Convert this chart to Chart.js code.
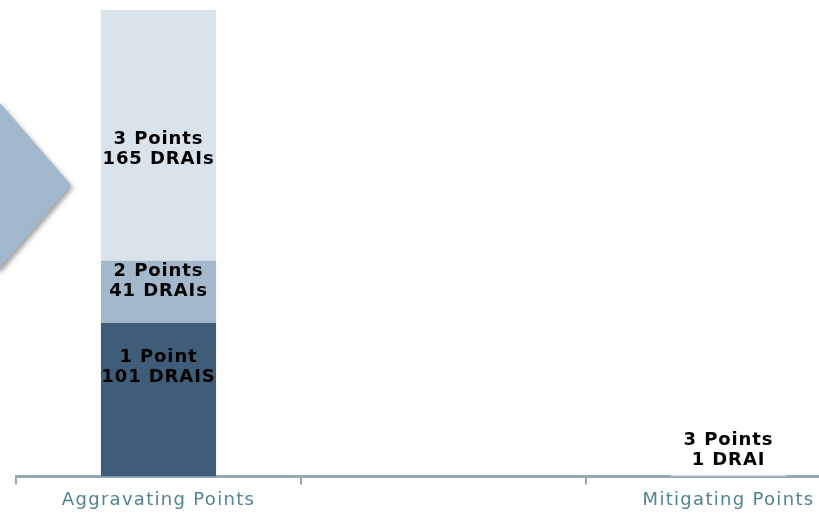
<!DOCTYPE html>
<html>
<head>
<meta charset="utf-8">
<script src="https://cdn.jsdelivr.net/npm/chart.js@4.4.1/dist/chart.umd.min.js"></script>
<style>
  html, body { margin: 0; padding: 0; background: #ffffff; overflow: hidden; }
  #wrap { position: absolute; left: 0; top: 0; width: 880px; height: 516px; }
</style>
</head>
<body>
<div id="wrap"><canvas id="c" width="880" height="516"></canvas></div>
<script>
// ---- data ----
const categories = ['Aggravating Points', '', 'Mitigating Points'];
const onePoint    = [101, 0, 0];
const twoPoints   = [41, 0, 0];
const threePoints = [165, 0, 1];
const onePointLabels    = ['1 Point\n101 DRAIS', '', ''];
const twoPointsLabels   = ['2 Points\n41 DRAIs', '', ''];
const threePointsLabels = ['3 Points\n165 DRAIs', '', '3 Points\n1 DRAI'];
const yMax = 307;

// ---- style ----
const labelOffsets = [-32, -10, 14]; // vertical nudge of in-bar labels, per dataset
const labelFont = 'bold 18px "DejaVu Sans", sans-serif';
const axisColor = '#93aab4';

const arrowPlugin = {
  id: 'arrowShape',
  beforeDraw(chart) {
    const ctx = chart.ctx;
    ctx.save();
    ctx.shadowColor = 'rgba(0,0,0,0.38)';
    ctx.shadowBlur = 5;
    ctx.shadowOffsetX = 2;
    ctx.shadowOffsetY = 3;
    ctx.fillStyle = '#a1b8cc';
    ctx.beginPath();
    ctx.moveTo(-40, 103);
    ctx.lineTo(0, 103);
    ctx.lineTo(71, 185);
    ctx.lineTo(0, 268);
    ctx.lineTo(-40, 268);
    ctx.closePath();
    ctx.fill();
    ctx.restore();
    ctx.letterSpacing = '1.3px';
  },
  afterDraw(chart) {
    chart.ctx.letterSpacing = '0px';
  }
};

const labelPlugin = {
  id: 'segmentLabels',
  afterDatasetsDraw(chart) {
    const ctx = chart.ctx;
    ctx.save();
    ctx.letterSpacing = '0.9px';
    ctx.font = labelFont;
    ctx.fillStyle = '#000000';
    ctx.textAlign = 'center';
    ctx.textBaseline = 'middle';
    const lineH = 20;
    chart.data.datasets.forEach((ds, di) => {
      const meta = chart.getDatasetMeta(di);
      meta.data.forEach((el, i) => {
        const txt = ds.segmentLabels[i];
        if (!txt) return;
        const p = el.getProps(['x', 'y', 'base'], true);
        const lines = txt.split('\n');
        const h = Math.abs(p.base - p.y);
        let cy;
        if (h < lines.length * lineH) {
          cy = p.y - 5 - (lines.length * lineH) / 2;
        } else {
          cy = (p.y + p.base) / 2 + labelOffsets[di];
        }
        lines.forEach((ln, k) => {
          ctx.fillText(ln, p.x, cy + (k - (lines.length - 1) / 2) * lineH);
        });
      });
    });
    ctx.restore();
  }
};

new Chart(document.getElementById('c'), {
  type: 'bar',
  data: {
    labels: categories,
    datasets: [
      { label: '1 Point',  data: onePoint,    segmentLabels: onePointLabels,    backgroundColor: '#3f5d78' },
      { label: '2 Points', data: twoPoints,   segmentLabels: twoPointsLabels,   backgroundColor: '#a3b8cb' },
      { label: '3 Points', data: threePoints, segmentLabels: threePointsLabels, backgroundColor: '#d9e3eb' }
    ]
  },
  options: {
    responsive: false,
    animation: false,
    layout: { padding: { left: 16, right: 9, top: 10, bottom: 0 } },
    datasets: { bar: { categoryPercentage: 1, barPercentage: 0.404, borderWidth: 0 } },
    plugins: { legend: { display: false }, tooltip: { enabled: false } },
    scales: {
      x: {
        stacked: true,
        grid: { drawOnChartArea: false, drawTicks: true, tickLength: 8, color: axisColor, lineWidth: 2 },
        border: { display: true, color: axisColor, width: 3 },
        ticks: { color: '#4f8394', font: { family: '"DejaVu Sans", sans-serif', size: 18 }, padding: 5, maxRotation: 0, autoSkip: false }
      },
      y: { stacked: true, display: false, min: 0, max: yMax }
    }
  },
  plugins: [arrowPlugin, labelPlugin]
});
</script>
</body>
</html>
